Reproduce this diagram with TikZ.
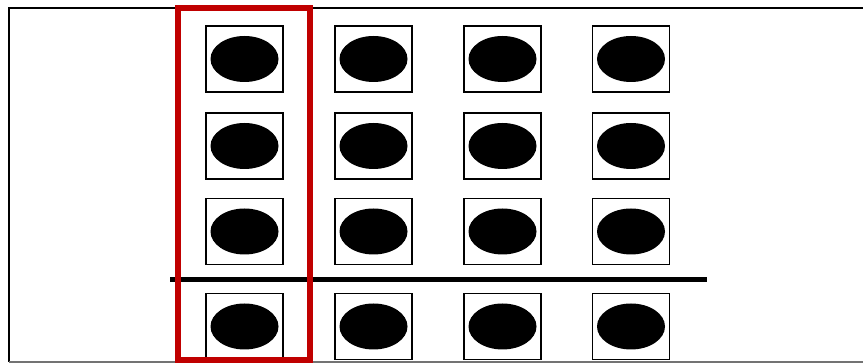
\documentclass[tikz,border=0pt]{standalone}
\usepackage{xcolor}
\usepackage{tikz}
\usetikzlibrary{shapes.geometric}

\definecolor{darkred}{RGB}{192,0,0}

\begin{document}
\begin{tikzpicture}[
            x=1pt, y=-1pt,
            cell/.style={rectangle, draw=black, line width=1.8pt, fill=white, minimum width=77pt, minimum height=66pt, inner sep=0pt},
            dot/.style={ellipse, fill=black, minimum width=68pt, minimum height=46pt, inner sep=0pt},
            highlight/.style={rectangle, draw=darkred, line width=6pt, minimum width=132pt, minimum height=352pt, inner sep=0pt}
        ]
        \useasboundingbox (0,0) rectangle (863,363);

        % outer frame (cut off at right and bottom)
        \draw[line width=2pt] (9,362) -- (9,8) -- (863,8);
        \draw[line width=1.5pt, black!55] (9,362) -- (863,362);

        % grid of cells
        \foreach \c/\x in {1/244.5, 2/373.5, 3/502.5, 4/631} {
            \foreach \r/\y in {1/59, 2/146, 3/231.5, 4/326.5} {
                \node[cell] (c\c r\r) at (\x,\y) {};
                \node[dot] (d\c r\r) at (c\c r\r) {};
            }
        }

        % separating line
        \coordinate (sepL) at (170,280);
        \coordinate (sepR) at (707,280);
        \draw[line width=5pt] (sepL) -- (sepR);

        % highlighted column
        \node[highlight] (col) at (244,184.5) {};
    \end{tikzpicture}
\end{document}
